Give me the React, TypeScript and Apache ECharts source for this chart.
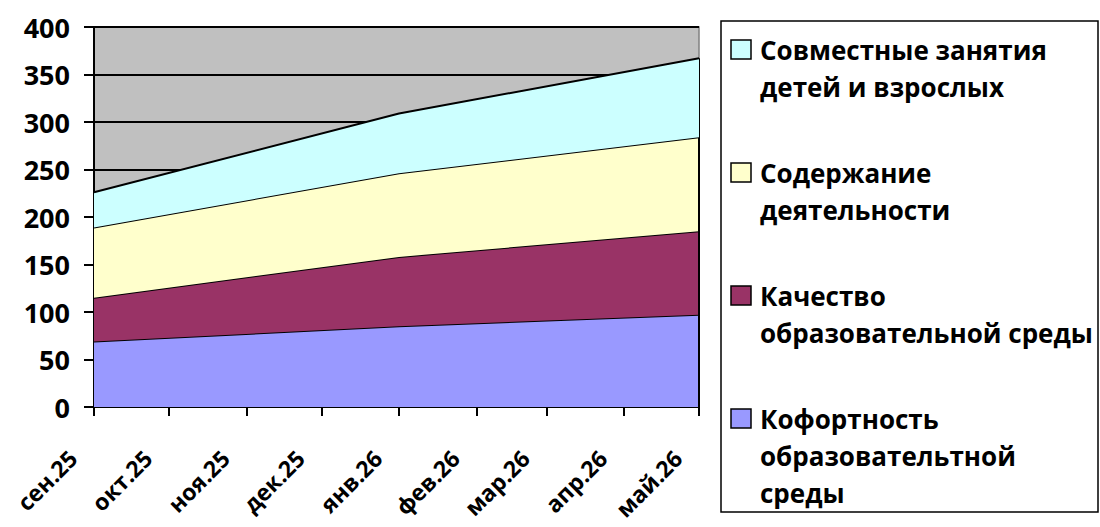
import React, { useEffect, useRef } from "react";
import * as echarts from "echarts";

const categories = ["сен.25", "окт.25", "ноя.25", "дек.25", "янв.26", "фев.26", "мар.26", "апр.26", "май.26"];
const pointDates = ["2025-09-01", "2026-01-01", "2026-05-01"];

const comfort = [69, 85, 97];
const quality = [46, 73, 88];
const content = [74, 88, 99];
const joint = [37, 63, 83];

const seriesNames = [
  "Кофортность образовательтной среды",
  "Качество образовательной среды",
  "Содержание деятельности",
  "Совместные занятия детей и взрослых",
];
const legendLabels = [
  "Кофортность\nобразовательтной\nсреды",
  "Качество\nобразовательной среды",
  "Содержание\nдеятельности",
  "Совместные занятия\nдетей и взрослых",
];
const colors = ["#9999FF", "#993366", "#FFFFCC", "#CCFFFF"];

const FONT = '"Open Sans", "Noto Sans", sans-serif';
const DAY = 24 * 3600 * 1000;

export default function App() {
  const ref = useRef<HTMLDivElement>(null);
  useEffect(() => {
    document.body.style.margin = "0";
    if (!ref.current) return;
    const chart = echarts.init(ref.current, null, { renderer: "svg" });
    const values = [comfort, quality, content, joint];
    const firstDate = pointDates[0];
    const lastDate = pointDates[pointDates.length - 1];
    const startYear = Number(firstDate.slice(0, 4));
    const startMonth = Number(firstDate.slice(5, 7)) - 1;
    const total = values.reduce((s, arr) => s + arr[arr.length - 1], 0);

    const series: any[] = values.map((arr, si) => ({
      name: seriesNames[si],
      type: "line",
      stack: "total",
      symbol: "none",
      data: arr.map((v, i) => [pointDates[i], v]),
      lineStyle: { color: "#000", width: 2 },
      areaStyle: { color: colors[si], opacity: 1 },
      itemStyle: { color: colors[si] },
      z: 2 + si,
    }));
    series[series.length - 1].markLine = {
      symbol: "none",
      silent: true,
      label: { show: false },
      lineStyle: { color: "#000", width: 2, type: "solid" },
      data: [[{ coord: [lastDate, 0] }, { coord: [lastDate, total] }]],
    };

    const legendItems: any[] = [];
    const order = [3, 2, 1, 0];
    order.forEach((si, k) => {
      const cy = 50 + k * 123;
      legendItems.push({
        type: "rect",
        shape: { x: 731, y: cy - 10, width: 20, height: 19 },
        style: { fill: colors[si], stroke: "#000", lineWidth: 1.5 },
      });
      legendItems.push({
        type: "text",
        x: 760,
        y: cy - 18.5,
        style: {
          text: legendLabels[si],
          font: `bold 26px ${FONT}`,
          lineHeight: 37,
          fill: "#000",
          verticalAlign: "top",
          align: "left",
        },
      });
    });

    chart.setOption({
      animation: false,
      backgroundColor: "#fff",
      grid: {
        left: 94,
        right: 401,
        top: 27,
        bottom: 120,
        show: true,
        outerBoundsMode: "none",
        containLabel: false,
        backgroundColor: "#C0C0C0",
        borderColor: "#808080",
        borderWidth: 1.5,
      },
      xAxis: {
        type: "time",
        min: firstDate,
        max: lastDate,
        splitNumber: 8,
        minInterval: 28 * DAY,
        maxInterval: 31 * DAY,
        axisLine: { show: true, lineStyle: { color: "#000", width: 2 } },
        axisTick: { show: true, length: 9, lineStyle: { color: "#000", width: 2 } },
        splitLine: { show: false },
        axisLabel: {
          rotate: 45,
          margin: 26,
          padding: [0, 30, 0, 0],
          hideOverlap: false,
          showMinLabel: true,
          showMaxLabel: true,
          formatter: (value: number) => {
            const d = new Date(value);
            const idx = (d.getFullYear() - startYear) * 12 + d.getMonth() - startMonth;
            return categories[idx] ?? "";
          },
          color: "#000",
          fontFamily: FONT,
          fontWeight: "bold",
          fontSize: 23,
        },
      },
      yAxis: {
        type: "value",
        min: 0,
        max: 400,
        interval: 50,
        axisLine: { show: true, lineStyle: { color: "#000", width: 2 } },
        axisTick: { show: true, length: 10, lineStyle: { color: "#000", width: 2 } },
        splitLine: { show: true, lineStyle: { color: "#000", width: 2 } },
        axisLabel: {
          margin: 24,
          color: "#000",
          fontFamily: FONT,
          fontWeight: "bold",
          fontSize: 27,
        },
      },
      series,
      graphic: [
        {
          type: "rect",
          shape: { x: 721, y: 21, width: 377, height: 491 },
          style: { fill: "#fff", stroke: "#000", lineWidth: 1.5 },
          z: 0,
        },
        { type: "group", children: legendItems, z: 1 },
      ],
    });
    return () => chart.dispose();
  }, []);
  return <div ref={ref} style={{ width: 1100, height: 527 }} />;
}
